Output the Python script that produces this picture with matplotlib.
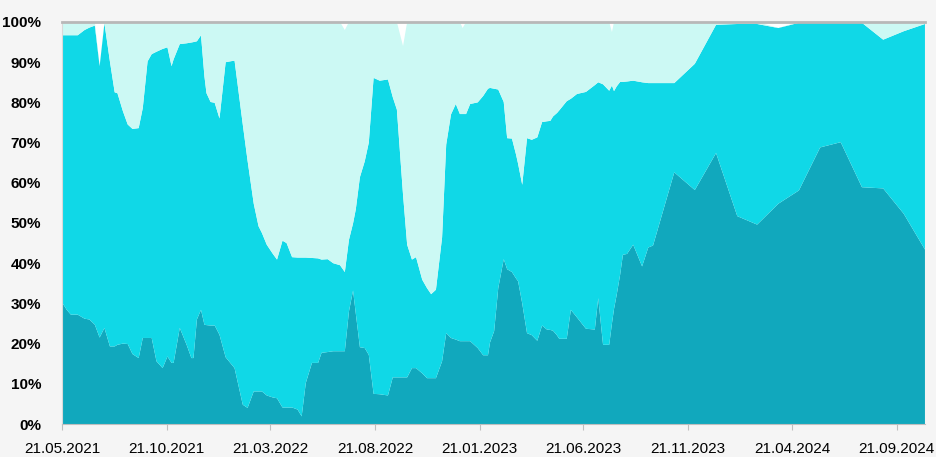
#!/usr/bin/env python3
"""
Stacked share chart (100%), three segments over time
"""

import pandas as pd
import matplotlib
matplotlib.use('Agg')
import matplotlib.pyplot as plt
import matplotlib.dates as mdates
from matplotlib.ticker import FuncFormatter

# data (share in %, per date)
dates = [
    '2021-05-21', '2021-05-28', '2021-06-03', '2021-06-13', '2021-06-23', '2021-06-30',
    '2021-07-08', '2021-07-15', '2021-07-22', '2021-07-30', '2021-08-06', '2021-08-10',
    '2021-08-18', '2021-08-25', '2021-09-01', '2021-09-10', '2021-09-16', '2021-09-23',
    '2021-09-29', '2021-10-06', '2021-10-15', '2021-10-22', '2021-10-28', '2021-10-31',
    '2021-11-09', '2021-11-19', '2021-11-26', '2021-11-29', '2021-12-04', '2021-12-10',
    '2021-12-15', '2021-12-18', '2021-12-24', '2021-12-30', '2022-01-06', '2022-01-15',
    '2022-01-28', '2022-02-09', '2022-02-16', '2022-02-25', '2022-03-04', '2022-03-09',
    '2022-03-16', '2022-03-25', '2022-03-31', '2022-04-08', '2022-04-14', '2022-04-22',
    '2022-04-30', '2022-05-06', '2022-05-12', '2022-05-21', '2022-05-30', '2022-06-04',
    '2022-06-13', '2022-06-21', '2022-07-01', '2022-07-08', '2022-07-14', '2022-07-20',
    '2022-07-24', '2022-07-30', '2022-08-06', '2022-08-12', '2022-08-19', '2022-08-28',
    '2022-09-09', '2022-09-16', '2022-09-22', '2022-10-01', '2022-10-07', '2022-10-14',
    '2022-10-20', '2022-10-29', '2022-11-05', '2022-11-11', '2022-11-18', '2022-11-27',
    '2022-12-03', '2022-12-10', '2022-12-17', '2022-12-23', '2022-12-27', '2023-01-01',
    '2023-01-07', '2023-01-18', '2023-01-26', '2023-02-02', '2023-02-05', '2023-02-11',
    '2023-02-17', '2023-02-25', '2023-03-02', '2023-03-09', '2023-03-15', '2023-03-18',
    '2023-03-24', '2023-03-31', '2023-04-07', '2023-04-15', '2023-04-22', '2023-04-29',
    '2023-05-04', '2023-05-08', '2023-05-14', '2023-05-17', '2023-05-28', '2023-06-03',
    '2023-06-12', '2023-06-25', '2023-07-08', '2023-07-13', '2023-07-20', '2023-07-29',
    '2023-08-02', '2023-08-05', '2023-08-09', '2023-08-14', '2023-08-18', '2023-08-24',
    '2023-09-02', '2023-09-15', '2023-09-24', '2023-10-01', '2023-11-01', '2023-12-01',
    '2024-01-01', '2024-02-01', '2024-03-01', '2024-04-01', '2024-05-01', '2024-06-01',
    '2024-07-01', '2024-08-01', '2024-09-01', '2024-10-01', '2024-11-01',
]

share_dark = [
    30.3, 28.4, 27.2, 27.2, 26.2, 26.0, 24.7, 21.5, 23.9, 19.3, 19.3, 19.7,
    20.0, 19.9, 17.4, 16.4, 21.4, 21.4, 21.4, 15.6, 13.9, 16.8, 15.2, 15.2,
    23.9, 19.7, 16.4, 16.4, 26.0, 28.4, 24.7, 24.6, 24.5, 24.5, 22.2, 16.6,
    13.9, 4.8, 4.0, 8.1, 8.1, 8.1, 7.1, 6.6, 6.4, 4.1, 4.1, 4.1,
    3.6, 1.9, 10.2, 15.2, 15.2, 17.7, 17.9, 18.1, 18.1, 18.1, 28.0, 33.2,
    27.5, 19.1, 18.9, 17.2, 7.5, 7.4, 7.1, 11.6, 11.6, 11.6, 11.6, 13.9,
    13.9, 12.6, 11.4, 11.4, 11.4, 15.6, 22.6, 21.4, 21.0, 20.6, 20.6, 20.6,
    20.6, 18.9, 17.1, 17.1, 20.3, 23.1, 33.8, 41.0, 38.5, 37.8, 36.2, 35.5,
    30.0, 22.6, 22.1, 20.7, 24.5, 23.5, 23.4, 23.2, 22.0, 21.2, 21.2, 28.4,
    26.5, 23.7, 23.5, 31.3, 19.7, 19.7, 25.0, 28.6, 32.2, 37.2, 42.1, 42.3,
    44.6, 39.2, 43.9, 44.4, 62.6, 58.2, 67.4, 51.7, 49.6, 54.8, 58.1, 68.8,
    70.1, 58.9, 58.6, 52.3, 43.4,
]

share_mid = [
    66.4, 68.3, 69.5, 69.5, 71.8, 72.6, 74.4, 67.5, 75.8, 70.9, 63.2, 62.6,
    57.8, 54.6, 56.0, 57.2, 57.2, 68.8, 70.6, 77.0, 79.4, 76.9, 73.8, 75.5,
    70.6, 75.0, 78.5, 78.6, 69.2, 68.3, 61.8, 57.7, 55.6, 55.4, 53.8, 73.4,
    76.5, 69.7, 61.5, 46.7, 41.1, 39.4, 37.5, 35.7, 34.5, 41.5, 40.9, 37.4,
    37.8, 39.5, 31.2, 26.1, 26.0, 23.2, 23.1, 21.9, 21.4, 19.7, 17.8, 16.7,
    25.9, 42.3, 46.4, 52.8, 78.6, 78.0, 78.6, 69.7, 66.6, 45.4, 33.0, 27.0,
    27.6, 23.3, 22.4, 20.9, 22.0, 30.8, 46.9, 55.6, 58.6, 56.5, 56.5, 56.5,
    59.0, 61.1, 64.5, 66.3, 63.3, 60.3, 49.4, 39.1, 32.6, 33.2, 30.8, 29.2,
    29.5, 48.5, 48.6, 50.6, 50.6, 51.8, 52.0, 53.3, 55.4, 56.8, 59.1, 52.5,
    55.6, 58.9, 60.8, 53.7, 64.8, 63.2, 59.2, 54.2, 51.8, 47.9, 43.0, 42.9,
    40.8, 45.8, 40.9, 40.4, 22.2, 31.4, 31.9, 47.8, 49.9, 43.7, 41.7, 31.0,
    29.7, 40.9, 37.0, 45.4, 56.1,
]

share_light = [
    3.3, 3.3, 3.3, 3.3, 2.0, 1.4, 0.9, 0.0, 0.3, 9.8, 17.5, 17.7,
    22.2, 25.5, 26.6, 26.4, 21.4, 9.8, 8.0, 7.4, 6.7, 6.3, 11.0, 9.3,
    5.5, 5.3, 5.1, 5.0, 4.8, 3.3, 13.5, 17.7, 19.9, 20.1, 24.0, 10.0,
    9.6, 25.5, 34.5, 45.2, 50.8, 52.5, 55.4, 57.7, 59.1, 54.4, 55.0, 58.5,
    58.6, 58.6, 58.6, 58.7, 58.8, 59.1, 59.0, 60.0, 60.5, 60.2, 54.2, 50.1,
    46.6, 38.6, 34.7, 30.0, 13.9, 14.6, 14.3, 18.7, 21.8, 37.0, 55.4, 59.1,
    58.5, 64.1, 66.2, 67.7, 66.6, 53.6, 30.5, 23.0, 20.4, 22.9, 21.4, 22.9,
    20.4, 20.0, 18.4, 16.6, 16.4, 16.6, 16.8, 19.9, 28.9, 29.0, 33.0, 35.3,
    40.5, 28.9, 29.3, 28.7, 24.9, 24.7, 24.6, 23.5, 22.6, 22.0, 19.7, 19.1,
    17.9, 17.4, 15.7, 15.0, 15.5, 17.1, 13.3, 17.2, 16.0, 14.9, 14.9, 14.8,
    14.6, 15.0, 15.2, 15.2, 15.2, 10.4, 0.7, 0.5, 0.5, 0.0, 0.2, 0.2,
    0.2, 0.2, 4.4, 2.3, 0.5,
]

tick_dates = [
    '2021-05-21', '2021-10-21', '2022-03-21', '2022-08-21', '2023-01-21',
    '2023-06-21', '2023-11-21', '2024-04-21', '2024-09-21',
]

colors = ['#11a8bd', '#10d8e7', '#ccf9f4']


def main():
    plt.rcParams['font.family'] = ['Liberation Sans', 'DejaVu Sans']

    x = pd.to_datetime(dates)

    fig = plt.figure(figsize=(9.36, 4.57), dpi=100, facecolor='#f5f5f5')
    ax = fig.add_axes([0.0662, 0.0722, 0.9220, 0.8797])
    ax.set_facecolor('white')

    ax.stackplot(x, share_dark, share_mid, share_light, colors=colors, linewidth=0)

    # thin grey band on top (100%)
    ax.axhline(100, color='#b8b8b8', linewidth=2, clip_on=False, zorder=5)

    ax.set_xlim(x[0], x[-1])
    ax.set_ylim(0, 100)

    ax.set_yticks(range(0, 101, 10))
    ax.yaxis.set_major_formatter(FuncFormatter(lambda v, _: f'{v:.0f}%'))
    ax.tick_params(axis='y', length=0, pad=15, labelsize=11)
    for lbl in ax.get_yticklabels():
        lbl.set_fontweight('bold')

    ax.set_xticks(pd.to_datetime(tick_dates))
    ax.xaxis.set_major_formatter(mdates.DateFormatter('%d.%m.%Y'))
    ax.tick_params(axis='x', direction='out', length=4, color='#bfbfbf',
                   labelsize=11, pad=9)

    for side in ['top', 'right']:
        ax.spines[side].set_visible(False)
    ax.spines['bottom'].set_color('#bfbfbf')
    ax.spines['left'].set_color('#d9d9d9')

    fig.savefig('out.png', dpi=100, facecolor=fig.get_facecolor())
    plt.close(fig)


if __name__ == '__main__':
    main()
